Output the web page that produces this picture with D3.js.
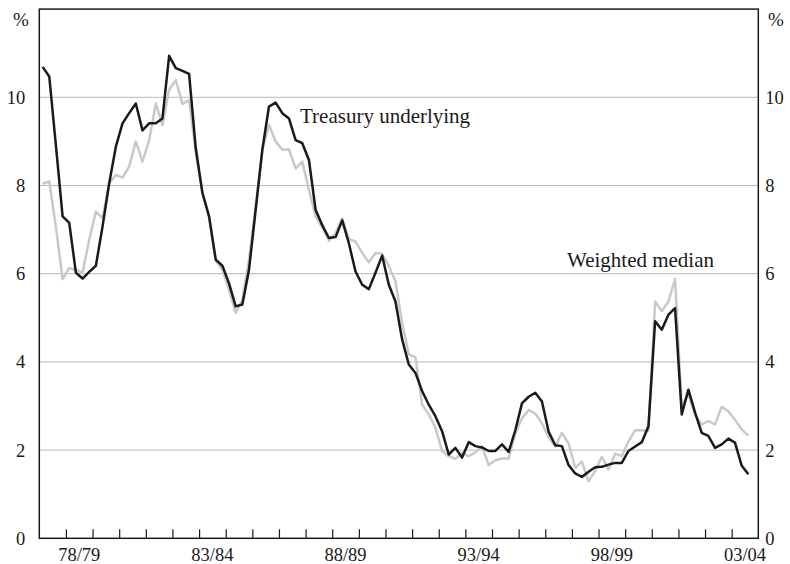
<!DOCTYPE html>
<html>
<head>
<meta charset="utf-8">
<script src="https://cdn.jsdelivr.net/npm/d3@7/dist/d3.min.js"></script>
<style>
  html, body { margin: 0; padding: 0; background: #fff; }
  svg { display: block; }
  svg text { font-family: "Liberation Serif", "Times New Roman", serif !important; fill: #1a1a1a; }
</style>
</head>
<body>
<svg id="chart" width="790" height="564"></svg>
<script>
// Quarterly data, Sep quarter 1977 to Mar quarter 2004 (year-ended inflation, %)
const firstQuarterStart = 1977.5; // fiscal year 1977/78 begins July 1977
const treasuryUnderlying = [
  10.69, 10.47, 8.9, 7.30, 7.15, 6.02, 5.89, 6.04, 6.18, 7.07,
  8.05, 8.88, 9.41, 9.64, 9.86, 9.25, 9.41, 9.41, 9.52, 10.94,
  10.66, 10.60, 10.53, 8.85, 7.83, 7.30, 6.32, 6.18, 5.78, 5.26,
  5.30, 6.09, 7.45, 8.81, 9.79, 9.88, 9.64, 9.52, 9.03, 8.96,
  8.58, 7.45, 7.10, 6.81, 6.83, 7.21, 6.69, 6.05, 5.75, 5.65,
  6.02, 6.41, 5.75, 5.37, 4.51, 3.94, 3.75, 3.34, 3.03, 2.77,
  2.43, 1.90, 2.05, 1.83, 2.18, 2.09, 2.06, 1.98, 1.98, 2.13,
  1.96, 2.45, 3.06, 3.21, 3.30, 3.10, 2.42, 2.11, 2.09, 1.66,
  1.47, 1.39, 1.51, 1.61, 1.62, 1.67, 1.71, 1.71, 1.98, 2.08,
  2.18, 2.54, 4.92, 4.73, 5.07, 5.22, 2.81, 3.37, 2.85, 2.39,
  2.32, 2.05, 2.13, 2.26, 2.17, 1.65, 1.45
];
const weightedMedian = [
  8.04, 8.09, 7.05, 5.88, 6.13, 6.09, 6.02, 6.77, 7.41, 7.26,
  8.05, 8.24, 8.18, 8.43, 9.00, 8.54, 9.03, 9.86, 9.37, 10.17,
  10.39, 9.85, 9.94, 8.75, 7.85, 7.30, 6.30, 6.09, 5.64, 5.11,
  5.41, 6.32, 7.52, 8.81, 9.37, 9.00, 8.81, 8.82, 8.39, 8.54,
  7.90, 7.30, 7.05, 6.75, 6.92, 7.26, 6.78, 6.73, 6.47, 6.26,
  6.47, 6.45, 6.17, 5.83, 4.88, 4.17, 4.11, 3.03, 2.81, 2.51,
  1.98, 1.86, 1.80, 1.94, 1.86, 1.95, 2.09, 1.66, 1.77, 1.81,
  1.81, 2.38, 2.72, 2.91, 2.83, 2.61, 2.29, 2.08, 2.39, 2.15,
  1.60, 1.74, 1.29, 1.53, 1.85, 1.56, 1.92, 1.86, 2.20, 2.45,
  2.45, 2.43, 5.37, 5.15, 5.37, 5.88, 3.00, 3.26, 2.81, 2.58,
  2.66, 2.58, 2.98, 2.88, 2.69, 2.47, 2.33
];
const fiscalYearLabels = ["78/79", "83/84", "88/89", "93/94", "98/99", "03/04"];
const fiscalYearLabelCentres = [1979, 1984, 1989, 1994, 1999, 2004];
const yTicks = [0, 2, 4, 6, 8, 10];
const gridValues = [2, 4, 6, 8, 10];
const seriesNames = ["Treasury underlying", "Weighted median"];

const svg = d3.select("#chart");
const L = 39.3, R = 758.3, T = 9.1, B = 538.3;
const tickFont = 18.5;

const x = d3.scaleLinear().domain([1977.5, 2004.5]).range([L, R]);
const y = d3.scaleLinear().domain([0, 12]).range([B, T]);
const qx = i => x(firstQuarterStart + 0.125 + 0.25 * i);

// gridlines
svg.append("g").selectAll("line").data(gridValues).join("line")
  .attr("x1", L).attr("x2", R)
  .attr("y1", d => y(d)).attr("y2", d => y(d))
  .attr("stroke", "#b9b9b9").attr("stroke-width", 1);

// x ticks (fiscal year boundaries), drawn inward
const yearTicks = d3.range(1978.5, 2004, 1);
const xAxis = d3.axisBottom(x).tickValues(yearTicks).tickSize(-9).tickFormat("");
const gx = svg.append("g").attr("transform", `translate(0,${B})`).call(xAxis);
gx.select(".domain").remove();
gx.selectAll(".tick line").attr("stroke", "#1a1a1a").attr("stroke-width", 1.2);

// x labels
svg.append("g").selectAll("text").data(fiscalYearLabels).join("text")
  .attr("x", (d, i) => x(fiscalYearLabelCentres[i]))
  .attr("y", 561)
  .attr("text-anchor", "middle")
  .attr("font-size", tickFont)
  .text(d => d);

// y labels left and right
const yAxisL = d3.axisLeft(y).tickValues(yTicks).tickSize(0).tickPadding(14).tickFormat(d3.format("d"));
const gyl = svg.append("g").attr("transform", `translate(${L},0)`).call(yAxisL);
gyl.select(".domain").remove();
gyl.attr("font-family", null).attr("font-size", null);
gyl.selectAll("text").attr("font-size", tickFont).attr("fill", "#1a1a1a");

const yAxisR = d3.axisRight(y).tickValues(yTicks).tickSize(0).tickPadding(7).tickFormat(d3.format("d"));
const gyr = svg.append("g").attr("transform", `translate(${R},0)`).call(yAxisR);
gyr.select(".domain").remove();
gyr.attr("font-family", null).attr("font-size", null);
gyr.selectAll("text").attr("font-size", tickFont).attr("fill", "#1a1a1a");

svg.append("text").attr("x", 21).attr("y", 26).attr("text-anchor", "middle").attr("font-size", 19).text("%");
svg.append("text").attr("x", 776).attr("y", 26).attr("text-anchor", "middle").attr("font-size", 19).text("%");

// lines
const line = d3.line().x((d, i) => qx(i)).y(d => y(d)).curve(d3.curveLinear);
svg.append("path").datum(weightedMedian)
  .attr("d", line).attr("fill", "none")
  .attr("stroke", "#c9c9c9").attr("stroke-width", 2.5).attr("stroke-linejoin", "round");
svg.append("path").datum(treasuryUnderlying)
  .attr("d", line).attr("fill", "none")
  .attr("stroke", "#1a1a1a").attr("stroke-width", 2.5).attr("stroke-linejoin", "round");

// frame
svg.append("rect").attr("x", L).attr("y", T).attr("width", R - L).attr("height", B - T)
  .attr("fill", "none").attr("stroke", "#1a1a1a").attr("stroke-width", 1.5);

// series labels
svg.append("text").attr("x", 300).attr("y", 123).attr("font-size", 21).text(seriesNames[0]);
svg.append("text").attr("x", 567).attr("y", 267).attr("font-size", 21).text(seriesNames[1]);
</script>
</body>
</html>
